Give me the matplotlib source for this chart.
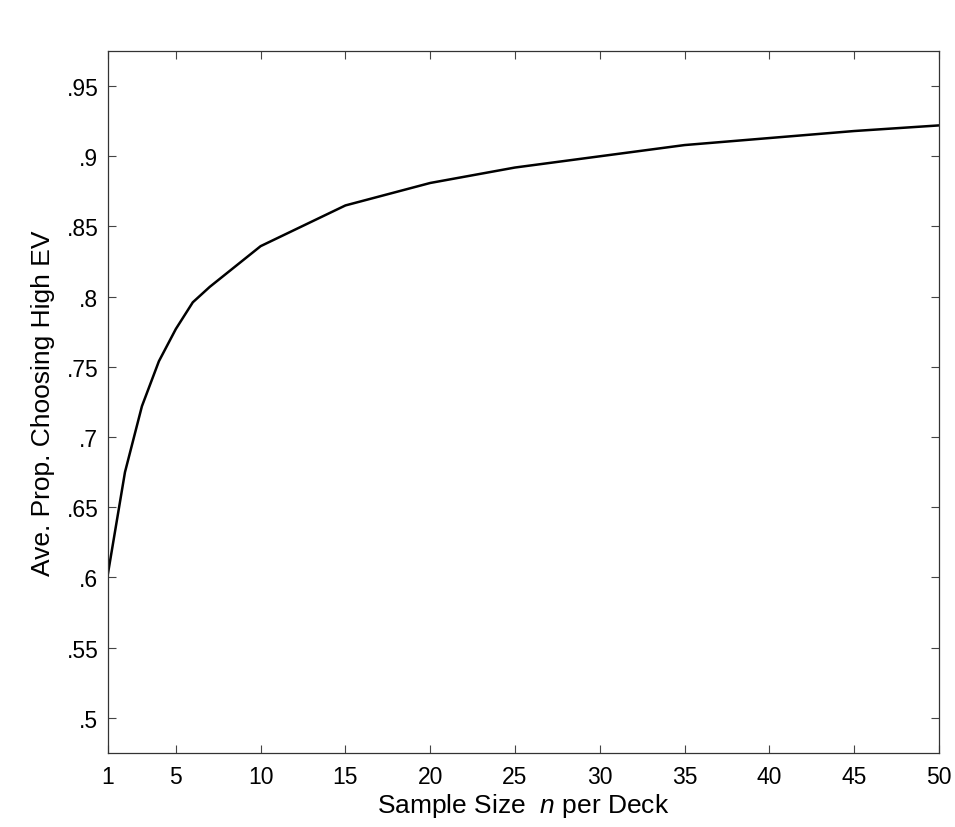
import matplotlib
matplotlib.use('Agg')
import matplotlib.pyplot as plt

plt.rcParams['font.family'] = ['Liberation Sans', 'DejaVu Sans']
plt.rcParams['mathtext.fontset'] = 'custom'
plt.rcParams['mathtext.it'] = 'Liberation Sans:italic'
plt.rcParams['mathtext.rm'] = 'Liberation Sans'

# data
sample_size = [1, 2, 3, 4, 5, 6, 7, 10, 15, 20, 25, 30, 35, 40, 45, 50]
prop_high_ev = [0.603, 0.675, 0.722, 0.754, 0.777, 0.796, 0.807, 0.836,
                0.865, 0.881, 0.892, 0.900, 0.908, 0.913, 0.918, 0.922]

x_ticks = [1, 5, 10, 15, 20, 25, 30, 35, 40, 45, 50]
y_ticks = [0.5, 0.55, 0.6, 0.65, 0.7, 0.75, 0.8, 0.85, 0.9, 0.95]
y_labels = ['.5', '.55', '.6', '.65', '.7', '.75', '.8', '.85', '.9', '.95']

fig = plt.figure(figsize=(9.55, 8.28), dpi=100)
ax = fig.add_axes([0.1131, 0.0894, 0.8701, 0.8478])

ax.plot(sample_size, prop_high_ev, color='black', linewidth=1.8)

ax.set_xlim(1, 50)
ax.set_ylim(0.475, 0.975)
ax.set_xticks(x_ticks)
ax.set_yticks(y_ticks)
ax.set_yticklabels(y_labels)

# matlab style box with inward ticks on every side
ax.tick_params(direction='in', length=6, width=0.8, color='#444444',
               top=True, right=True, labelsize=16.5)
ax.tick_params(axis='y', pad=7)
ax.tick_params(axis='x', pad=9)
for s in ax.spines.values():
    s.set_linewidth(0.9)
    s.set_color('#333333')

ax.set_xlabel('Sample Size  $n$ per Deck', fontsize=19, labelpad=2)
ax.set_ylabel('Ave. Prop. Choosing High EV', fontsize=19, labelpad=8)

fig.savefig('out.png', dpi=100)
